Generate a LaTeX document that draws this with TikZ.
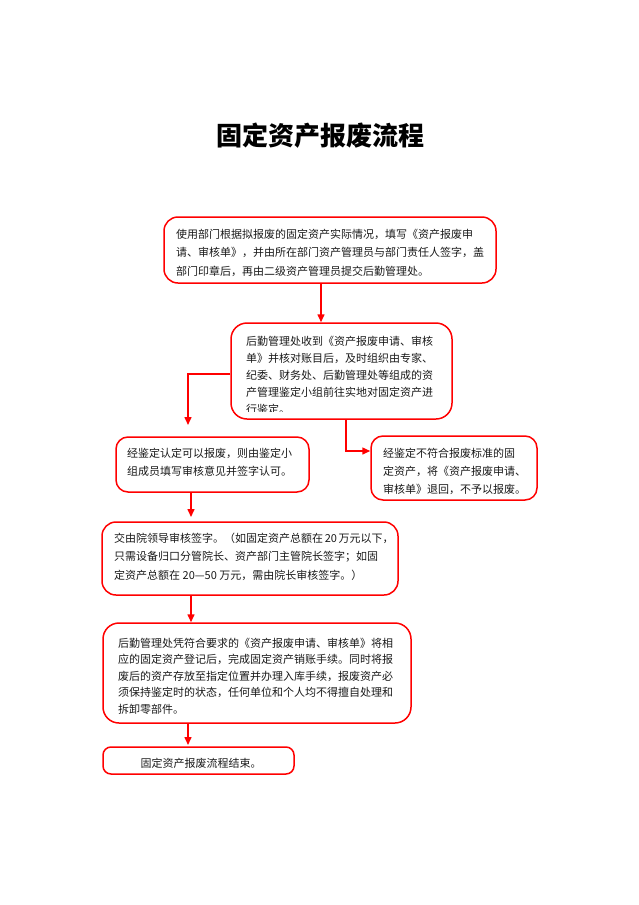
\documentclass[tikz,border=0pt]{standalone}
\usepackage{fontspec}
\setmainfont{Noto Sans CJK SC}
\usetikzlibrary{arrows.meta,calc}
\definecolor{boxred}{RGB}{255,0,0}
\XeTeXlinebreaklocale "zh"
\XeTeXlinebreakskip=0pt plus 1fil
\newcommand\jl[2]{\makebox[#1pt][s]{#2}}
\tikzset{
  frame/.style={draw=boxred, line width=1.5pt, rounded corners=#1, inner sep=0pt},
  frame/.default=14pt,
  tl/.style={anchor=base west, inner sep=0pt, font=\fontsize{11}{13}\selectfont, text=black!90},
  arr/.style={draw=boxred, line width=1.5pt, -{Triangle[length=8pt,width=7pt]}},
  ln/.style={draw=boxred, line width=1.5pt}
}
\begin{document}
\begin{tikzpicture}[x=1pt,y=-1pt]
\useasboundingbox (0,0) rectangle (639,905);
% title
\node[font=\fontsize{26}{30}\selectfont\bfseries, inner sep=0pt] (title) at (320,136) {固定资产报废流程};
% boxes
\node[frame, minimum width=332pt, minimum height=66pt] (b1) at (330,250) {};
\node[frame=16pt, minimum width=221pt, minimum height=96pt] (b2) at (341.5,371) {};
\node[frame=12pt, minimum width=193pt, minimum height=55pt] (b3) at (212.5,464.5) {};
\node[frame=12pt, minimum width=166pt, minimum height=64pt] (b4) at (454,468) {};
\node[frame, minimum width=296pt, minimum height=73pt] (b5) at (250,558.5) {};
\node[frame=16pt, minimum width=308pt, minimum height=100pt] (b6) at (257,673) {};
\node[frame=8pt, minimum width=191pt, minimum height=27pt] (b7) at (198.5,760.5) {};
% box 1 text
\node[tl] (t1a) at (176,238) {\jl{308}{使用部门根据拟报废的固定资产实际情况，填写《资产报废申}};
\node[tl] (t1b) at (176,256.5) {\jl{308}{请、审核单》，并由所在部门资产管理员与部门责任人签字，盖}};
\node[tl] (t1c) at (176,275) {部门印章后，再由二级资产管理员提交后勤管理处。};
% box 2 text
\node[tl] (t2a) at (246,345) {\jl{189}{后勤管理处收到《资产报废申请、审核}};
\node[tl] (t2b) at (246,362) {\jl{189}{单》并核对账目后，及时组织由专家、}};
\node[tl] (t2c) at (246,379) {\jl{189}{纪委、财务处、后勤管理处等组成的资}};
\node[tl] (t2d) at (246,396) {\jl{189}{产管理鉴定小组前往实地对固定资产进}};
\begin{scope}
\clip (231,323) rectangle (452,411);
\node[tl] (t2e) at (246,413) {行鉴定。};
\end{scope}
% box 3 text
\node[tl] (t3a) at (127,457) {\jl{170}{经鉴定认定可以报废，则由鉴定小}};
\node[tl] (t3b) at (127,475) {\jl{170}{组成员填写审核意见并签字认可。}};
% box 4 text
\node[tl] (t4a) at (383,457) {\jl{142}{经鉴定不符合报废标准的固}};
\node[tl] (t4b) at (383,475) {\jl{142}{定资产，将《资产报废申请、}};
\node[tl] (t4c) at (383,493) {\jl{142}{审核单》退回，不予以报废。}};
% box 5 text
\node[tl] (t5a) at (114,542) {\jl{274}{交由院领导审核签字。（如固定资产总额在 20 万元以下，}};
\node[tl] (t5b) at (114,560.5) {\jl{274}{只需设备归口分管院长、资产部门主管院长签字；如固}};
\node[tl] (t5c) at (114,579) {定资产总额在 20—50 万元，需由院长审核签字。）};
% box 6 text
\node[tl] (t6a) at (118,647) {\jl{279}{后勤管理处凭符合要求的《资产报废申请、审核单》将相}};
\node[tl] (t6b) at (118,663.5) {\jl{279}{应的固定资产登记后，完成固定资产销账手续。同时将报}};
\node[tl] (t6c) at (118,680) {\jl{279}{废后的资产存放至指定位置并办理入库手续，报废资产必}};
\node[tl] (t6d) at (118,696.5) {\jl{279}{须保持鉴定时的状态，任何单位和个人均不得擅自处理和}};
\node[tl] (t6e) at (118,713) {拆卸零部件。};
% box 7 text
\node[tl, anchor=base] (t7) at (201,767) {固定资产报废流程结束。};
% connectors
\coordinate (c1) at ([xshift=-9pt]b1.south);
\draw[arr] (c1) -- (c1 |- b2.north);
\coordinate (c2b) at (188,374);
\coordinate (c2c) at (188,425);
\draw[arr] (b2.west |- c2b) -- (c2b) -- (c2c);
\coordinate (c3) at (346,419);
\coordinate (c3b) at (346,451);
\draw[arr] (c3) -- (c3b) -- (c3b -| b4.west);
\coordinate (c4) at (191,492);
\coordinate (c4b) at (191,517);
\draw[arr] (c4) -- (c4b);
\coordinate (c5) at (191,595);
\draw[arr] (c5) -- (c5 |- b6.north);
\coordinate (c6) at (188,723);
\coordinate (c6b) at (188,745);
\draw[arr] (c6) -- (c6b);
\end{tikzpicture}
\end{document}
